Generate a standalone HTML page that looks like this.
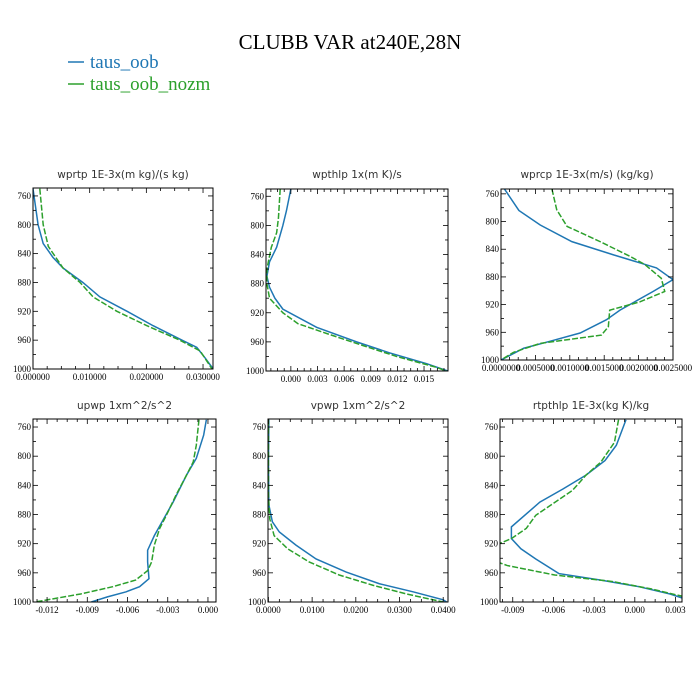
<!DOCTYPE html>
<html><head><meta charset="utf-8"><style>
body{margin:0;background:#fff}
svg{display:block}
.tl{font-family:"Liberation Serif",serif;font-size:9px;fill:#000}
.pt{font-family:"DejaVu Sans","Liberation Sans",sans-serif;font-size:10.5px;fill:#333}
</style></head><body>
<svg id="c" width="700" height="700" xmlns="http://www.w3.org/2000/svg">
<text x="350" y="49" text-anchor="middle" style="font-family:'Liberation Serif',serif;font-size:21px">CLUBB VAR at240E,28N</text>
<g>
<line x1="68" y1="62" x2="84" y2="62" stroke="#1f77b4" stroke-width="1.5"/>
<text x="90" y="68" style="font-family:'Liberation Serif',serif;font-size:19px" fill="#1f77b4">taus_oob</text>
<line x1="68" y1="84" x2="84" y2="84" stroke="#2ca02c" stroke-width="1.5"/>
<text x="90" y="90" style="font-family:'Liberation Serif',serif;font-size:19px" fill="#2ca02c">taus_oob_nozm</text>
</g>
</svg>
<script>
// shared pressure ticks
const yTicks = [760, 800, 840, 880, 920, 960, 1000];
// panel 1: wprtp
const p1Titles = "wprtp  1E-3x(m kg)/(s kg)";
const p1XTicks = [0, 0.01, 0.02, 0.03];
const p1XLabels = ["0.000000","0.010000","0.020000","0.030000"];
const p1BlueP = [750,800,826,845,860,880,900,920,940,960,970,985,1000];
const p1BlueV = [0.0,0.0009,0.0018,0.0035,0.0053,0.0088,0.0118,0.0166,0.0212,0.0263,0.0289,0.0304,0.0318];
const p1GreenP = [750,800,830,860,880,900,920,940,960,975,1000];
const p1GreenV = [0.0012,0.0018,0.0027,0.0053,0.0083,0.0106,0.0148,0.0201,0.0259,0.0295,0.0316];
// panel 2: wpthlp
const p2XTicks = [0,0.003,0.006,0.009,0.012,0.015];
const p2XLabels = ["0.000","0.003","0.006","0.009","0.012","0.015"];
const p2BlueP = [750,780,800,830,850,870,885,900,915,940,960,975,990,1000];
const p2BlueV = [0,-0.0005,-0.0009,-0.0016,-0.0024,-0.0027,-0.0024,-0.0018,-0.0009,0.0029,0.0074,0.0111,0.0153,0.0177];
const p2GreenP = [750,790,810,830,860,880,900,920,935,950,965,980,995,1000];
const p2GreenV = [-0.0012,-0.0014,-0.0016,-0.0022,-0.0027,-0.0027,-0.0024,-0.0009,0.0008,0.0044,0.0081,0.0119,0.0164,0.0175];
// panel 3: wprcp
const p3XTicks = [0,0.0005,0.001,0.0015,0.002,0.0025];
const p3XLabels = ["0.0000000","0.0005000","0.0010000","0.0015000","0.0020000","0.0025000"];
const p3BlueP = [753,784,805,829,848,867,884,901,928,942,961,973,983,1000];
const p3BlueV = [0.00005,0.00026,0.00057,0.00103,0.00163,0.00226,0.0025,0.00221,0.00173,0.00153,0.00115,0.00071,0.00033,0];
const p3GreenP = [753,783,807,829,850,862,882,901,916,928,952,964,976,989,1000];
const p3GreenV = [0.00074,0.00081,0.00096,0.00144,0.00187,0.00209,0.00233,0.00238,0.00202,0.00158,0.00156,0.00146,0.00057,0.00018,0];
// panel 4: upwp
const p4XTicks = [-0.012,-0.009,-0.006,-0.003,0];
const p4XLabels = ["-0.012","-0.009","-0.006","-0.003","0.000"];
const p4BlueP = [750,771,803,826,863,886,909,929,945,968,979,986,993,1000];
const p4BlueV = [-0.00012,-0.00032,-0.00087,-0.0016,-0.0026,-0.0033,-0.0040,-0.0045,-0.0045,-0.0044,-0.0051,-0.0061,-0.0075,-0.0087];
const p4GreenP = [750,785,808,826,854,881,899,922,945,957,970,979,989,1000];
const p4GreenV = [-0.00067,-0.00087,-0.0011,-0.0016,-0.0024,-0.0031,-0.0036,-0.0040,-0.0042,-0.0045,-0.0054,-0.0071,-0.0095,-0.0129];
// panel 5: vpwp
const p5XTicks = [0,0.01,0.02,0.03,0.04];
const p5XLabels = ["0.0000","0.0100","0.0200","0.0300","0.0400"];
const p5BlueP = [750,808,867,890,904,922,941,959,975,986,997,1000];
const p5BlueV = [0.0001,0,0.0001,0.0009,0.0025,0.0063,0.0109,0.0178,0.0254,0.0331,0.04,0.0408];
const p5GreenP = [750,854,886,909,927,945,963,977,989,1000];
const p5GreenV = [0,0,0.0003,0.0013,0.0044,0.0093,0.0162,0.0239,0.0316,0.04];
// panel 6: rtpthlp
const p6XTicks = [-0.009,-0.006,-0.003,0,0.003];
const p6XLabels = ["-0.009","-0.006","-0.003","0.000","0.003"];
const p6BlueP = [750,785,806,826,845,863,897,913,927,941,961,970,979,989,1000];
const p6BlueV = [-0.00065,-0.00136,-0.0022,-0.0036,-0.0053,-0.007,-0.0091,-0.0091,-0.0084,-0.0073,-0.0056,-0.0025,0.0003,0.0026,0.0044];
const p6GreenP = [750,781,808,826,847,881,899,913,927,938,950,963,972,982,993,1000];
const p6GreenV = [-0.0012,-0.0015,-0.0025,-0.0036,-0.0046,-0.0073,-0.008,-0.0091,-0.0109,-0.0112,-0.0094,-0.0059,-0.0016,0.0012,0.0037,0.0044];

const panels = [
 {name:"wprtp",title:"wprtp  1E-3x(m kg)/(s kg)",x0:33,x1:213,y0:188,y1:369,xmin:0,xmax:0.03176,pmin:749,xt:p1XTicks,xl:p1XLabels,bp:p1BlueP,bv:p1BlueV,gp:p1GreenP,gv:p1GreenV,ty:178},
 {name:"wpthlp",title:"wpthlp  1x(m K)/s",x0:266,x1:448,y0:189,y1:371,xmin:-0.0028,xmax:0.0177,pmin:750,xt:p2XTicks,xl:p2XLabels,bp:p2BlueP,bv:p2BlueV,gp:p2GreenP,gv:p2GreenV,ty:178},
 {name:"wprcp",title:"wprcp  1E-3x(m/s) (kg/kg)",x0:501,x1:673,y0:189,y1:360,xmin:0,xmax:0.0025,pmin:753,xt:p3XTicks,xl:p3XLabels,bp:p3BlueP,bv:p3BlueV,gp:p3GreenP,gv:p3GreenV,ty:178,small:true},
 {name:"upwp",title:"upwp  1xm^2/s^2",x0:33,x1:216,y0:419,y1:602,xmin:-0.01305,xmax:0.0006,pmin:749,xt:p4XTicks,xl:p4XLabels,bp:p4BlueP,bv:p4BlueV,gp:p4GreenP,gv:p4GreenV,ty:409},
 {name:"vpwp",title:"vpwp  1xm^2/s^2",x0:268,x1:448,y0:419,y1:602,xmin:-0.0001,xmax:0.0411,pmin:749,xt:p5XTicks,xl:p5XLabels,bp:p5BlueP,bv:p5BlueV,gp:p5GreenP,gv:p5GreenV,ty:409},
 {name:"rtpthlp",title:"rtpthlp  1E-3x(kg K)/kg",x0:500,x1:682,y0:419,y1:602,xmin:-0.00994,xmax:0.00348,pmin:749,xt:p6XTicks,xl:p6XLabels,bp:p6BlueP,bv:p6BlueV,gp:p6GreenP,gv:p6GreenV,ty:409}
];
const NS="http://www.w3.org/2000/svg";
const svg=document.getElementById('c');
function mk(t,a,parent){const e=document.createElementNS(NS,t);for(const k in a)e.setAttribute(k,a[k]);(parent||svg).appendChild(e);return e;}
panels.forEach((P,i)=>{
  const g=mk('g',{});
  
  
  const X=v=>P.x0+(v-P.xmin)/(P.xmax-P.xmin)*(P.x1-P.x0);
  const Y=p=>P.y0+(p-P.pmin)/(1000-P.pmin)*(P.y1-P.y0);
  const t=mk('text',{x:(P.x0+P.x1)/2,y:P.ty,'text-anchor':'middle',class:'pt'},g);
  t.textContent=P.title;
  
  
  const cp=mk('clipPath',{id:'cp'+i},g);
  mk('rect',{x:P.x0,y:P.y0,width:P.x1-P.x0,height:P.y1-P.y0},cp);
  // series
  [[P.bp,P.bv,'#1f77b4','','blue'],[P.gp,P.gv,'#2ca02c','6 2','green']].forEach(s=>{
    const d=s[0].map((p,j)=>(j?'L':'M')+X(s[1][j]).toFixed(2)+' '+Y(p).toFixed(2)).join(' ');
    const path=mk('path',{d:d,fill:'none',stroke:s[2],'stroke-width':1.5,'clip-path':'url(#cp'+i+')'},g);
    if(s[3])path.setAttribute('stroke-dasharray',s[3]);
    
    
  });
  // frame
  const fr=mk('rect',{x:P.x0,y:P.y0,width:P.x1-P.x0,height:P.y1-P.y0,fill:'none',stroke:'#000','stroke-width':1},g);
  
  
  const ax=mk('g',{stroke:'#000','stroke-width':0.8},g);
  
  
  // y ticks
  for(let p=760;p<=1000;p+=20){
    const y=Y(p), L=(p%40===0)?5:3;
    mk('line',{x1:P.x0,y1:y,x2:P.x0+L,y2:y},ax);
    mk('line',{x1:P.x1,y1:y,x2:P.x1-L,y2:y},ax);
  }
  yTicks.forEach(p=>{
    const tx=mk('text',{x:P.x0-2,y:Y(p)+3,'text-anchor':'end',class:'tl'},g);
    if(P.small&&p===1000)tx.setAttribute('font-size','8');
    tx.textContent=String(p);
    
    
  });
  // x ticks
  const step=P.xt[1]-P.xt[0], ms=step/4;
  const start=P.xt[0]-Math.floor((P.xt[0]-P.xmin)/ms)*ms;
  for(let v=start;v<=P.xmax+1e-12;v+=ms){
    const x=X(v); if(x<P.x0-0.1||x>P.x1+0.1)continue;
    const k=Math.round((v-P.xt[0])/ms), L=(k%4===0)?5:3;
    mk('line',{x1:x,y1:P.y1,x2:x,y2:P.y1-L},ax);
    mk('line',{x1:x,y1:P.y0,x2:x,y2:P.y0+L},ax);
  }
  P.xt.forEach((v,j)=>{
    const tx=mk('text',{x:X(v),y:P.y1+11,'text-anchor':'middle',class:'tl'},g);
    if(P.small)tx.setAttribute('font-size','7.5');
    tx.textContent=P.xl[j];
    
    
  });
});
</script>
</body></html>
